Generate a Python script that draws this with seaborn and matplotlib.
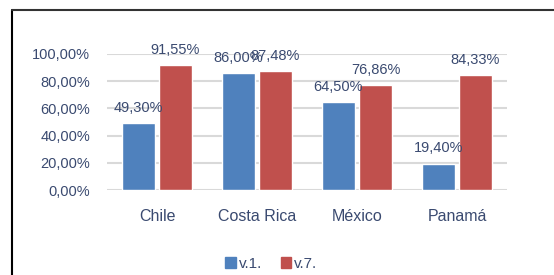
import matplotlib
matplotlib.use("Agg")
import matplotlib.pyplot as plt
import matplotlib.patches as mpatches
import pandas as pd
import seaborn as sns

# datos
paises = ["Chile", "Costa Rica", "México", "Panamá"]
v1 = [49.30, 86.00, 64.50, 19.40]
v7 = [91.55, 87.48, 76.86, 84.33]
series = ["v.1.", "v.7."]
yticks = [0, 20, 40, 60, 80, 100]

df = pd.DataFrame({
    "pais": paises * 2,
    "serie": [series[0]] * 4 + [series[1]] * 4,
    "valor": v1 + v7,
})

sns.set_theme(style="white")
plt.rcParams['font.family'] = ['Liberation Sans', 'DejaVu Sans']

txt = "#3a4a70"
fig = plt.figure(figsize=(5.54, 2.75), dpi=100)
ax = fig.add_axes([107 / 554, 1 - 190 / 275, 400 / 554, 136 / 275])

sns.barplot(data=df, x="pais", y="valor", hue="serie",
            palette=["#4f81bd", "#c0504d"], width=0.74, gap=0.1,
            saturation=1, ax=ax, legend=False, zorder=3)

for cont in ax.containers:
    ax.bar_label(cont, labels=[f"{b.get_height():.2f}".replace(".", ",") + "%" for b in cont],
                 padding=6, fontsize=10.5, color=txt)

ax.set_ylim(0, 100)
ax.set_yticks(yticks)
ax.set_yticklabels([f"{t},00%" for t in yticks], fontsize=10.5, color=txt)
ax.set_xlim(-0.5, 3.5)
ax.tick_params(axis="x", labelsize=11.5, colors=txt, length=0, pad=14)
ax.tick_params(axis="y", length=0, pad=12)
ax.set_xlabel("")
ax.set_ylabel("")
ax.yaxis.grid(True, color="#d9d9d9", linewidth=1.5, zorder=0)
for s in ax.spines.values():
    s.set_visible(False)

handles = [mpatches.Patch(color=c) for c in ["#4f81bd", "#c0504d"]]
fig.legend(handles, series, loc="center", bbox_to_anchor=(0.49, 1 - 264 / 275),
           ncol=2, frameon=False, fontsize=11, handlelength=0.7, handleheight=0.7,
           handletextpad=0.2, columnspacing=1.2, labelcolor=txt)

# marco del recorte
fig.add_artist(plt.Line2D([12 / 554, 12 / 554], [0, 1 - 10 / 275], color="black", lw=1.5))
fig.add_artist(plt.Line2D([12 / 554, 1], [1 - 10 / 275, 1 - 10 / 275], color="#333333", lw=1.5))

plt.savefig("out.png", dpi=100)
